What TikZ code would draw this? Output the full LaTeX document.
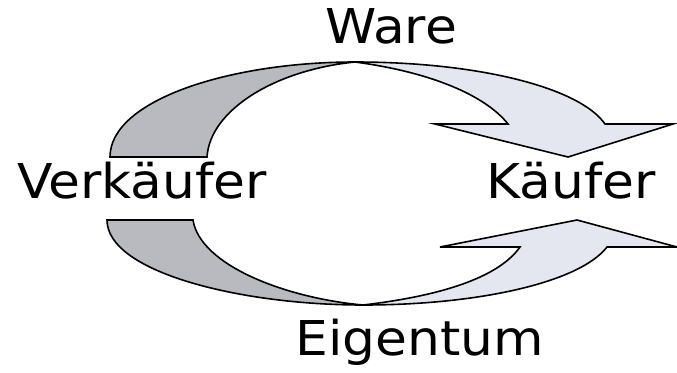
\documentclass[tikz,border=0pt]{standalone}
\usepackage{fontspec}
\newfontfamily\labelfont[FakeStretch=1.08]{DejaVu Sans}
\definecolor{backgray}{RGB}{185,186,192}
\definecolor{frontgray}{RGB}{228,231,239}
\begin{document}
\begin{tikzpicture}[x=1pt,y=-1pt,
  ribbon/.style={draw=black,line width=1.6pt,line join=miter},
  back/.style={ribbon,fill=backgray},
  front/.style={ribbon,fill=frontgray},
  lbl/.style={font=\labelfont\fontsize{48}{52}\selectfont,anchor=base,inner sep=0pt}]
\useasboundingbox (0,0) rectangle (677,372);
% top arrow (Ware)
\draw[back] (110,157) .. controls (110,100) and (230,62) .. (355,62)
  .. controls (275,70) and (210,110) .. (207,157) -- cycle;
\draw[front] (355,62) .. controls (480,62) and (580,88) .. (605,124)
  -- (673,124) -- (568,157) -- (435,124) -- (508,124)
  .. controls (485,95) and (430,72) .. (355,62) -- cycle;
% bottom arrow (Eigentum)
\draw[back] (107,220) .. controls (107,272) and (240,305) .. (363,305)
  .. controls (285,298) and (200,265) .. (193,220) -- cycle;
\draw[front] (363,305) .. controls (480,305) and (580,282) .. (607,247)
  -- (677,247) -- (577,220) -- (440,247) -- (520,247)
  .. controls (498,278) and (440,296) .. (363,305) -- cycle;
% labels
\node[lbl] (ware) at (391,43) {Ware};
\node[lbl] (verk) at (142,198) {Verkäufer};
\node[lbl] (kauf) at (571,198) {Käufer};
\node[lbl] (eig) at (420,355) {Eigentum};
\end{tikzpicture}
\end{document}
